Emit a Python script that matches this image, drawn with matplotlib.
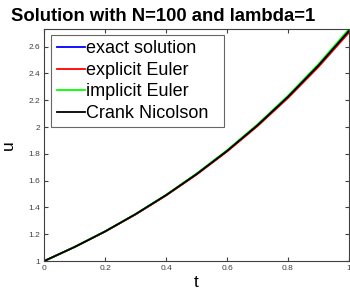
import matplotlib
matplotlib.use("Agg")
import matplotlib.pyplot as plt

plt.rcParams['font.family'] = ['Liberation Sans', 'DejaVu Sans']

# values (N=100, lambda=1)
t = [0.0, 0.1, 0.2, 0.3, 0.4, 0.5, 0.6, 0.7, 0.8, 0.9, 1.0]
u_exact = [1.000, 1.105, 1.221, 1.350, 1.492, 1.649, 1.822, 2.014, 2.226, 2.460, 2.718]
u_explicit = [1.000, 1.105, 1.220, 1.348, 1.489, 1.645, 1.817, 2.007, 2.217, 2.449, 2.705]
u_implicit = [1.000, 1.106, 1.222, 1.351, 1.494, 1.653, 1.827, 2.020, 2.234, 2.470, 2.732]
u_cn = [1.000, 1.105, 1.221, 1.350, 1.492, 1.649, 1.822, 2.014, 2.226, 2.460, 2.718]

xticks = [0, 0.2, 0.4, 0.6, 0.8, 1]
xticklabels = ['0', '0.2', '0.4', '0.6', '0.8', '1']
yticks = [1, 1.2, 1.4, 1.6, 1.8, 2, 2.2, 2.4, 2.6]
yticklabels = ['1', '1.2', '1.4', '1.6', '1.8', '2', '2.2', '2.4', '2.6']

fig = plt.figure(figsize=(3.5, 2.96), dpi=100)
ax = fig.add_axes([0.126, 0.118, 0.871, 0.784])

ax.plot(t, u_exact, color='#0000ff', lw=1.3, label='exact solution')
ax.plot(t, u_explicit, color='#ff0000', lw=1.3, label='explicit Euler')
ax.plot(t, u_implicit, color='#00ff00', lw=1.3, label='implicit Euler')
ax.plot(t, u_cn, color='#000000', lw=1.3, label='Crank Nicolson')

ax.set_xlim(0, 1)
ax.set_ylim(1, max(u_implicit))
ax.set_xticks(xticks)
ax.set_xticklabels(xticklabels)
ax.set_yticks(yticks)
ax.set_yticklabels(yticklabels)
ax.tick_params(direction='in', top=True, right=True, length=3, width=0.8,
               labelsize=6, colors='#404040', labelcolor='#404040', pad=3)
for s in ax.spines.values():
    s.set_color('#404040')
    s.set_linewidth(0.8)

ax.set_xlabel('t', fontsize=12.5, labelpad=2)
ax.set_ylabel('u', fontsize=12.5, labelpad=9)
fig.text(0.467, 1 - 21 / 296, 'Solution with N=100 and lambda=1', fontsize=13.3,
         fontweight='bold', ha='center', va='baseline')

leg = ax.legend(loc='upper left', bbox_to_anchor=(0.023, 0.578, 0.567, 0.396),
                mode='expand', borderaxespad=0, fontsize=13, frameon=True,
                fancybox=False, borderpad=0.3, labelspacing=0.25,
                handlelength=1.55, handletextpad=0.1)
leg.get_frame().set_edgecolor('#404040')
leg.get_frame().set_linewidth(0.8)

fig.savefig('out.png', dpi=100)
